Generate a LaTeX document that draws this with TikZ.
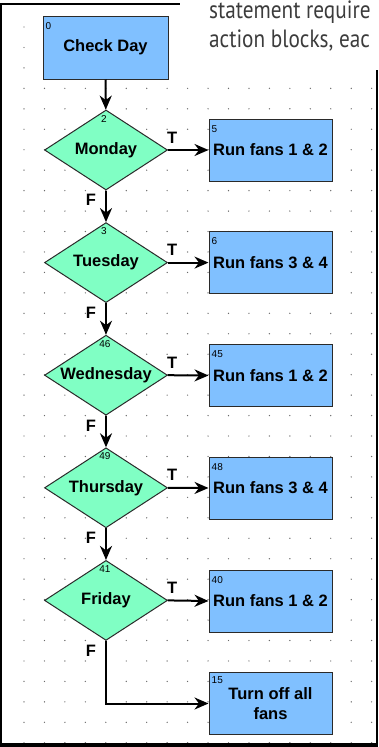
\documentclass[tikz,border=0pt]{standalone}
\usepackage{fontspec}
\setmainfont{Liberation Sans}
\newfontfamily\pagefont[FakeStretch=0.85]{PT Sans}
\usetikzlibrary{positioning,arrows.meta,shapes.geometric}
\definecolor{sky}{HTML}{80C0FF}
\definecolor{mint}{HTML}{80FFC4}
\definecolor{edge}{HTML}{2A2A2A}
\definecolor{grain}{HTML}{6A6A6A}
\definecolor{pagetext}{HTML}{3C3C3C}

\begin{document}
\begin{tikzpicture}[
  x=1pt, y=-1pt,
  >={Stealth[length=14pt,width=12pt,inset=4.5pt]},
  action/.style={draw=edge, fill=sky, line width=1pt, rectangle,
                 minimum width=123pt, minimum height=62pt, inner sep=2pt,
                 align=center, font=\fontsize{16.5}{20}\selectfont\bfseries},
  test/.style={draw=edge, fill=mint, line width=1pt, diamond, aspect=1.54,
               minimum width=123pt, minimum height=80pt, inner sep=0pt,
               font=\fontsize{16.5}{20}\selectfont\bfseries},
  tag/.style={font=\fontsize{10}{12}\selectfont, inner sep=0pt},
  flow/.style={->, line width=2pt},
  lab/.style={font=\fontsize{16.5}{19}\selectfont\bfseries, inner sep=1pt},
  caption/.style={font=\pagefont\fontsize{25}{30}\selectfont,
                  text=pagetext, inner sep=0pt},
]
\useasboundingbox (0,0) rectangle (378,747);
\fill[white] (0,0) rectangle (378,747);

\foreach \row in {3,...,35}
  \foreach \col in {0,...,17}
    \fill[grain] (24+20.45*\col, 27+20.45*\row) circle (0.7pt);
\foreach \row in {0,...,2}
  \foreach \col in {0,...,7}
    \fill[grain] (24+20.45*\col, 27+20.45*\row) circle (0.7pt);

\draw[line width=2pt] (0,3.5) -- (180,3.5);
\draw[line width=1.5pt] (1,3) -- (1,747);
\draw[line width=2pt] (377,70) -- (377,747);
\draw[line width=4pt] (0,745) -- (378,745);

\node[caption, anchor=base west] (cap1) at (209,18) {statement require};
\node[caption, anchor=base west] (cap2) at (209,47) {action blocks, eac};

\node[action, minimum width=125pt, minimum height=63pt] (chk) at (105.5,47.5) {Check Day};
\node[test] (mon) at (106,150) {Monday};
\node[test] (tue) at (106,262.6) {Tuesday};
\node[test] (wed) at (106,375.2) {Wednesday};
\node[test] (thu) at (106,487.8) {Thursday};
\node[test] (fri) at (106,600.4) {Friday};

\node[action] (run5) at (270.5,150) {Run fans 1 \& 2};
\node[action] (run6) at (270.5,262.6) {Run fans 3 \& 4};
\node[action] (run45) at (270.5,375.5) {Run fans 1 \& 2};
\node[action] (run48) at (270.5,488) {Run fans 3 \& 4};
\node[action] (run40) at (270.5,601) {Run fans 1 \& 2};
\node[action] (off) at (270.5,703.5) {Turn off all\\ fans};

\node[tag, anchor=north west] (chk-id) at ([xshift=3pt,yshift=-7pt]chk.north west) {0};
\node[tag, anchor=north] (mon-id) at ([xshift=-2pt,yshift=-5.5pt]mon.north) {2};
\node[tag, anchor=north] (tue-id) at ([xshift=-2pt,yshift=-5.5pt]tue.north) {3};
\node[tag, anchor=north] (wed-id) at ([xshift=-1pt,yshift=-5.5pt]wed.north) {46};
\node[tag, anchor=north] (thu-id) at ([xshift=-1pt,yshift=-5.5pt]thu.north) {49};
\node[tag, anchor=north] (fri-id) at ([xshift=-1pt,yshift=-6pt]fri.north) {41};
\node[tag, anchor=north west] (run5-id) at ([xshift=3pt,yshift=-6.5pt]run5.north west) {5};
\node[tag, anchor=north west] (run6-id) at ([xshift=3pt,yshift=-6.5pt]run6.north west) {6};
\node[tag, anchor=north west] (run45-id) at ([xshift=3pt,yshift=-6.5pt]run45.north west) {45};
\node[tag, anchor=north west] (run48-id) at ([xshift=3pt,yshift=-6.5pt]run48.north west) {48};
\node[tag, anchor=north west] (run40-id) at ([xshift=3pt,yshift=-6.5pt]run40.north west) {40};
\node[tag, anchor=north west] (off-id) at ([xshift=3pt,yshift=-4.5pt]off.north west) {15};

\draw[flow] (chk) -- (mon);
\draw[flow] (mon.east) -- node[lab, pos=0.1, above=5pt] {T} (run5.west);
\draw[flow] (tue.east) -- node[lab, pos=0.1, above=5pt] {T} (run6.west);
\draw[flow] (wed.east) -- node[lab, pos=0.1, above=5pt] {T} (run45.west);
\draw[flow] (thu.east) -- node[lab, pos=0.1, above=5pt] {T} (run48.west);
\draw[flow] (fri.east) -- node[lab, pos=0.1, above=5pt] {T} (run40.west);
\draw[flow] (mon.south) -- node[lab, pos=0.31, left=8pt] {F} (tue.north);
\draw[flow] (tue.south) -- node[lab, pos=0.31, left=8pt] {F} (wed.north);
\draw[flow] (wed.south) -- node[lab, pos=0.31, left=8pt] {F} (thu.north);
\draw[flow] (thu.south) -- node[lab, pos=0.31, left=8pt] {F} (fri.north);
\draw[flow] (fri.south) -- node[lab, pos=0.16, left=8pt] {F} (fri.south |- off.west) -- (off.west);
\end{tikzpicture}
\end{document}
